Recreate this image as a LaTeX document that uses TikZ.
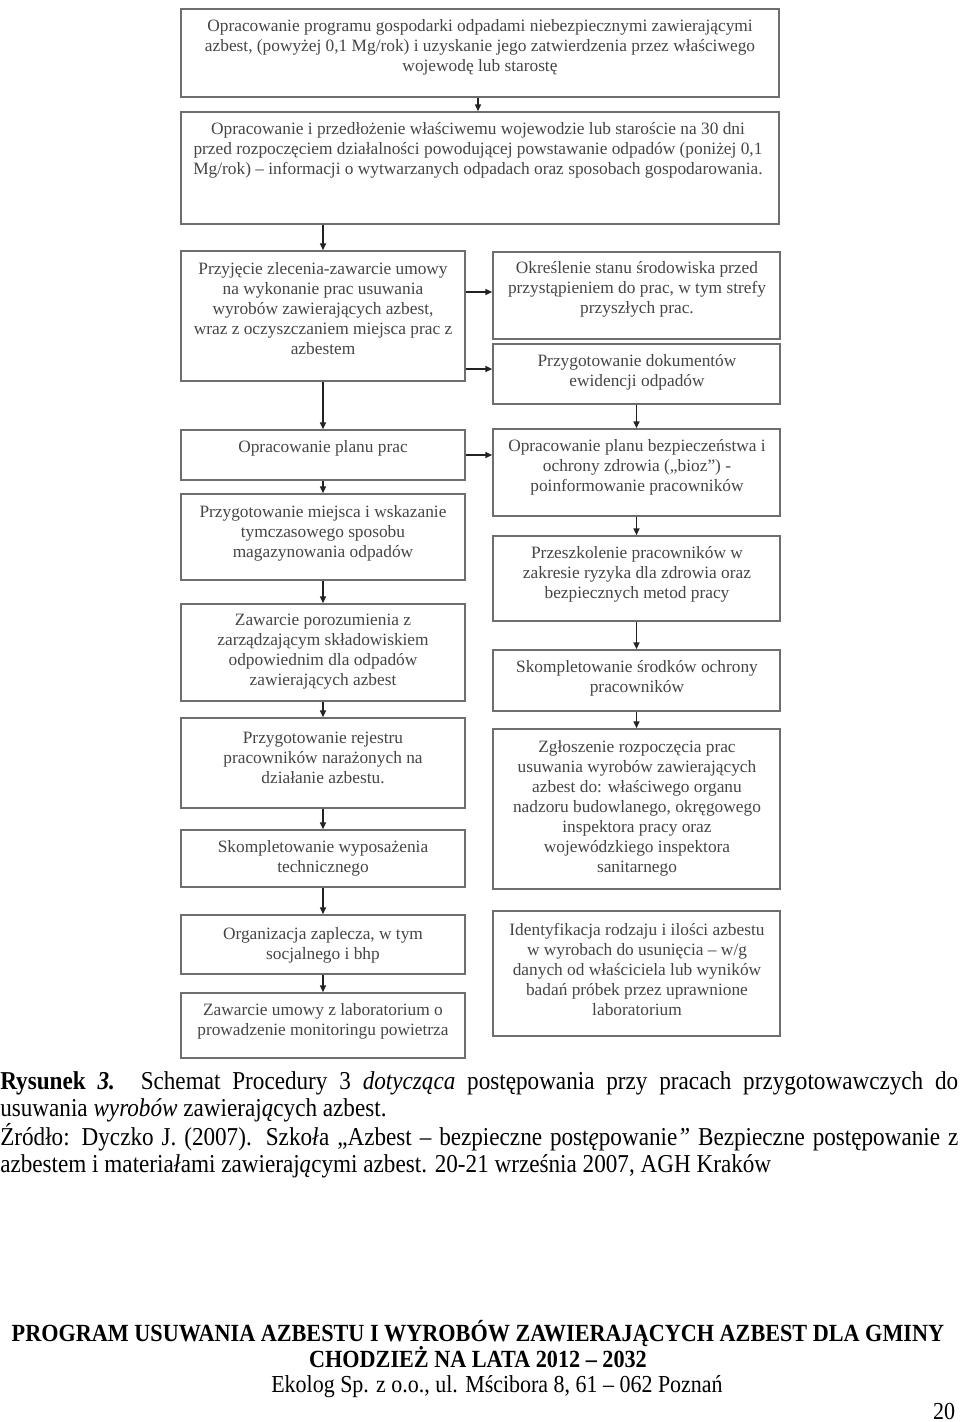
\documentclass[tikz,border=0pt]{standalone}
\usepackage{fontspec}
\setmainfont{Liberation Serif}
\newfontfamily\capfont[FakeStretch=0.9]{Liberation Serif}
\usetikzlibrary{arrows.meta,calc,fit}
\definecolor{boxc}{HTML}{6E6E6E}
\definecolor{txtc}{HTML}{454545}
\definecolor{arrc}{HTML}{222222}
\begin{document}
\begin{tikzpicture}[x=0.75pt,y=-0.75pt,
  box/.style={draw=boxc, line width=1.3pt, rectangle, inner sep=0pt},
  txt/.style={align=center, text=txtc, font=\fontsize{13}{15}\selectfont, inner sep=0pt},
  arr/.style={draw=arrc, line width=0.9pt, -{Triangle[length=5pt,width=4.5pt]}},
  captext/.style={inner sep=0pt, font=\capfont\fontsize{19.3}{20.25}\selectfont},
  foot/.style={inner sep=0pt, anchor=base, font=\capfont\fontsize{18.3}{20}\selectfont},
  footb/.style={foot, font=\capfont\bfseries\fontsize{18.5}{20}\selectfont}
]
\useasboundingbox (0,0) rectangle (960,1422);
% boxes
\node[box, fit={(181,9) (779,97)}] (b1) {};
\node[box, fit={(181,112) (779,224)}] (b2) {};
\node[box, fit={(181,251) (465,381)}] (l3) {};
\node[box, fit={(493,252) (780,339)}] (r1) {};
\node[box, fit={(493,344) (780,404)}] (r2) {};
\node[box, fit={(181,430) (465,480)}] (l4) {};
\node[box, fit={(493,429) (780,516)}] (r3) {};
\node[box, fit={(181,494) (465,580)}] (l5) {};
\node[box, fit={(493,536) (780,621)}] (r4) {};
\node[box, fit={(181,604) (465,701)}] (l6) {};
\node[box, fit={(493,650) (780,711)}] (r5) {};
\node[box, fit={(181,718) (465,808)}] (l7) {};
\node[box, fit={(493,729) (780,889)}] (r6) {};
\node[box, fit={(181,830) (465,887)}] (l8) {};
\node[box, fit={(493,911) (780,1036)}] (r7) {};
\node[box, fit={(181,915) (465,974)}] (l9) {};
\node[box, fit={(181,993) (465,1058)}] (l10) {};
% texts
\node[txt] (t1) at (480,47) {Opracowanie programu gospodarki odpadami niebezpiecznymi zawierającymi\\ azbest, (powyżej 0,1 Mg/rok) i uzyskanie jego zatwierdzenia przez właściwego\\ wojewodę lub starostę};
\node[txt] (t2) at (478,150) {Opracowanie i przedłożenie właściwemu wojewodzie lub staroście na 30 dni\\ przed rozpoczęciem działalności powodującej powstawanie odpadów (poniżej 0,1\\ Mg/rok) – informacji o wytwarzanych odpadach oraz sposobach gospodarowania.};
\node[txt] (tl3) at (323,309) {Przyjęcie zlecenia-zawarcie umowy\\ na wykonanie prac usuwania\\ wyrobów zawierających azbest,\\ wraz z oczyszczaniem miejsca prac z\\ azbestem};
\node[txt] (tr1) at (637,289) {Określenie stanu środowiska przed\\ przystąpieniem do prac, w tym strefy\\ przyszłych prac.};
\node[txt] (tr2) at (637,372) {Przygotowanie dokumentów\\ ewidencji odpadów};
\node[txt] (tl4) at (323,448) {Opracowanie planu prac};
\node[txt] (tr3) at (637,467) {Opracowanie planu bezpieczeństwa i\\ ochrony zdrowia („bioz”) -\\ poinformowanie pracowników};
\node[txt] (tl5) at (323,533) {Przygotowanie miejsca i wskazanie\\ tymczasowego sposobu\\ magazynowania odpadów};
\node[txt] (tr4) at (637,574) {Przeszkolenie pracowników w\\ zakresie ryzyka dla zdrowia oraz\\ bezpiecznych metod pracy};
\node[txt] (tl6) at (323,652) {Zawarcie porozumienia z\\ zarządzającym składowiskiem\\ odpowiednim dla odpadów\\ zawierających azbest};
\node[txt] (tr5) at (637,678) {Skompletowanie środków ochrony\\ pracowników};
\node[txt] (tl7) at (323,758) {Przygotowanie rejestru\\ pracowników narażonych na\\ działanie azbestu.};
\node[txt] (tr6) at (637,808) {Zgłoszenie rozpoczęcia prac\\ usuwania wyrobów zawierających\\ azbest do: właściwego organu\\ nadzoru budowlanego, okręgowego\\ inspektora pracy oraz\\ wojewódzkiego inspektora\\ sanitarnego};
\node[txt] (tl8) at (323,858) {Skompletowanie wyposażenia\\ technicznego};
\node[txt] (tr7) at (637,969) {Identyfikacja rodzaju i ilości azbestu\\ w wyrobach do usunięcia – w/g\\ danych od właściciela lub wyników\\ badań próbek przez uprawnione\\ laboratorium};
\node[txt] (tl9) at (323,945) {Organizacja zaplecza, w tym\\ socjalnego i bhp};
\node[txt] (tl10) at (323,1021) {Zawarcie umowy z laboratorium o\\ prowadzenie monitoringu powietrza};
% connectors
\draw[arr] ($(b1.south)+(-2,0)$) -- ($(b2.north)+(-2,0)$);
\draw[arr] (l3.north |- b2.south) -- (l3.north);
\draw[arr] (l3.east |- 0,292) -- (r1.west |- 0,292);
\draw[arr] (l3.east |- 0,369) -- (r2.west |- 0,369);
\draw[arr] (l3.south) -- (l4.north);
\draw[arr] (r2.south) -- (r3.north);
\draw[arr] (l4.east) -- (l4.east -| r3.west);
\draw[arr] (l4.south) -- (l5.north);
\draw[arr] (r3.south) -- (r4.north);
\draw[arr] (l5.south) -- (l6.north);
\draw[arr] (r4.south) -- (r5.north);
\draw[arr] (l6.south) -- (l7.north);
\draw[arr] (r5.south) -- (r6.north);
\draw[arr] (l7.south) -- (l8.north);
\draw[arr] (l8.south) -- (l9.north);
\draw[arr] (l9.south) -- (l10.north);
% caption
\node[captext, anchor=north west, text width=718.5pt, align=justify] (caption) at (0,1071) {\textbf{Rysunek \textit{3.}} Schemat Procedury 3 \textit{dotycząca} postępowania przy pracach przygotowawczych do\linebreak usuwania \textit{wyrobów} zawieraj\textit{ą}cych azbest.\par
Źródło: Dyczko J. (2007). Szko\textit{ł}a „Azbest – bezpieczne post\textit{ę}powanie\textit{”} Bezpieczne postępowanie z\linebreak azbestem i materia\textit{ł}ami zawieraj\textit{ą}cymi azbest. 20-21 września 2007, AGH Kraków};
% footer
\node[footb] (f1) at (478,1341) {PROGRAM USUWANIA AZBESTU I WYROBÓW ZAWIERAJĄCYCH AZBEST DLA GMINY};
\node[footb] (f2) at (478,1367) {CHODZIEŻ NA LATA 2012 – 2032};
\node[foot] (f3) at (497,1392) {Ekolog Sp. z o.o., ul. Mścibora 8, 61 – 062 Poznań};
\node[foot] (pg) at (944,1419) {20};
\end{tikzpicture}
\end{document}
